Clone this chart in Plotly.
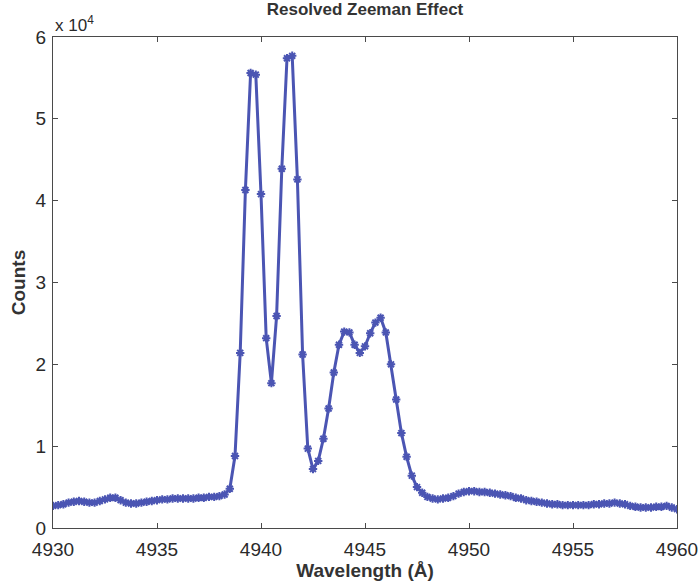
import plotly.graph_objects as go

# Wavelength grid (Angstrom), 0.25 A steps from 4930 to 4960
wavelength = [4930 + 0.25 * k for k in range(121)]

# Detector counts (units of 1e4)
counts_e4 = [
    0.27, 0.28, 0.29, 0.31, 0.32, 0.33, 0.32, 0.31, 0.31, 0.33,
    0.35, 0.37, 0.37, 0.34, 0.31, 0.30, 0.30, 0.31, 0.32, 0.33,
    0.34, 0.35, 0.35, 0.36, 0.36, 0.36, 0.36, 0.36, 0.37, 0.37,
    0.38, 0.38, 0.39, 0.41, 0.48, 0.88, 2.14, 4.13, 5.56, 5.54,
    4.08, 2.32, 1.77, 2.59, 4.39, 5.74, 5.77, 4.26, 2.12, 0.97,
    0.72, 0.82, 1.09, 1.46, 1.90, 2.24, 2.40, 2.39, 2.24, 2.14,
    2.22, 2.38, 2.51, 2.57, 2.39, 2.00, 1.57, 1.16, 0.87, 0.64,
    0.50, 0.43, 0.38, 0.36, 0.35, 0.36, 0.37, 0.39, 0.42, 0.44,
    0.45, 0.45, 0.44, 0.44, 0.43, 0.42, 0.41, 0.40, 0.39, 0.37,
    0.36, 0.34, 0.33, 0.32, 0.31, 0.30, 0.29, 0.29, 0.28, 0.28,
    0.28, 0.28, 0.28, 0.28, 0.29, 0.29, 0.30, 0.30, 0.31, 0.30,
    0.29, 0.27, 0.26, 0.25, 0.25, 0.25, 0.26, 0.26, 0.27, 0.25,
    0.23,
]
counts = [round(v * 1e4) for v in counts_e4]

x_ticks = [4930, 4935, 4940, 4945, 4950, 4955, 4960]
y_ticks = [0, 10000, 20000, 30000, 40000, 50000, 60000]
y_tick_text = ["0", "1", "2", "3", "4", "5", "6"]

line_color = "#4b55b3"
axis_color = "#4a4a4a"
font_family = "Liberation Sans, Arial, sans-serif"

fig = go.Figure()
fig.add_trace(go.Scatter(
    x=wavelength, y=counts, mode="lines+markers",
    line=dict(color=line_color, width=3),
    marker=dict(symbol="asterisk-open", size=7, color=line_color,
                line=dict(color=line_color, width=2)),
    showlegend=False,
))

axis_common = dict(
    showline=True, linecolor=axis_color, linewidth=1, mirror="ticks",
    ticks="inside", ticklen=5, tickcolor=axis_color, tickwidth=1,
    showgrid=False, zeroline=False, automargin=False,
    tickfont=dict(family=font_family, size=19, color="#2a2a2a"),
)

fig.update_xaxes(
    range=[4930, 4960], tickvals=x_ticks, ticklabelstandoff=4,
    title=dict(text="<b>Wavelength (Å)</b>", standoff=0,
               font=dict(family=font_family, size=19, color="#333333")),
    **axis_common,
)
fig.update_yaxes(
    range=[0, 60000], tickvals=y_ticks, ticktext=y_tick_text,
    ticklabelstandoff=2,
    title=dict(text="<b>Counts</b>", standoff=4,
               font=dict(family=font_family, size=19, color="#333333")),
    **axis_common,
)

fig.add_annotation(
    xref="paper", yref="paper", x=0.0, y=1.0, xanchor="left", yanchor="bottom",
    text="x 10<sup>4</sup>", showarrow=False, yshift=0, xshift=0,
    font=dict(family=font_family, size=17, color="#2a2a2a"),
)

fig.update_layout(
    width=700, height=582,
    margin=dict(l=53, r=23, t=37, b=54),
    paper_bgcolor="white", plot_bgcolor="white",
    title=dict(text="<b>Resolved Zeeman Effect</b>", xref="paper", x=0.5,
               xanchor="center", yref="container", y=0.995, yanchor="top",
               font=dict(family=font_family, size=17, color="#333333")),
)

fig.write_html("out.html")
